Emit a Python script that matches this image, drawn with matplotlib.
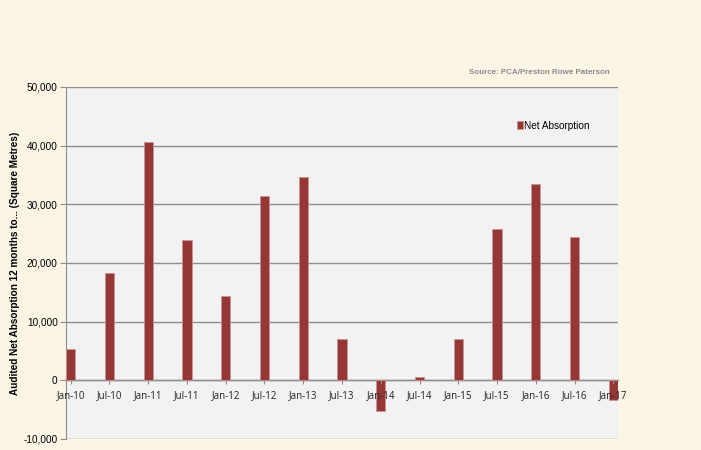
import matplotlib.pyplot as plt
import numpy as np

# %% data
periods = ["Jan-10", "Jul-10", "Jan-11", "Jul-11", "Jan-12", "Jul-12", "Jan-13",
           "Jul-13", "Jan-14", "Jul-14", "Jan-15", "Jul-15", "Jan-16", "Jul-16",
           "Jan-17"]
net_absorption = [5400, 18300, 40600, 23900, 14300, 31500, 34600,
                  7100, -5200, 600, 7100, 25800, 33500, 24400, -3400]
y_ticks = [-10000, 0, 10000, 20000, 30000, 40000, 50000]

# %% plotting
bg = "#fbf5e6"
bar_color = "#953735"
grid_color = "#8e8e8e"
narrow = ["Liberation Sans Narrow", "Liberation Sans", "DejaVu Sans"]

fig = plt.figure(figsize=(7.01, 4.5), dpi=100, facecolor=bg)
ax = fig.add_axes([66 / 701, 1 - 439 / 450, 552 / 701, 352 / 450])
ax.set_facecolor("#f2f2f2")

x = np.arange(len(periods))
width = 0.24
bars = ax.bar(x, net_absorption, width=width, color=bar_color,
              edgecolor="#c99393", linewidth=0.6, zorder=3,
              label="Net Absorption")

ax.set_xlim(-width / 2, len(periods) - 1 + width / 2)
ax.set_ylim(-10000, 50000)
ax.yaxis.grid(True, color=grid_color, linewidth=1.0)
ax.set_axisbelow(True)
# category labels sit on top of the bars that cross zero
ax.xaxis.set_zorder(4)

for side in ("top", "right"):
    ax.spines[side].set_visible(False)
ax.spines["left"].set_color(grid_color)
ax.spines["bottom"].set_position(("data", 0))
ax.spines["bottom"].set_color(grid_color)
ax.spines["bottom"].set_linewidth(1.0)
ax.spines["bottom"].set_zorder(2)
ax.tick_params(axis="x", length=3, color=grid_color, pad=4, labelsize=7,
               labelcolor="#222222", labelfontfamily="Open Sans")
ax.tick_params(axis="y", length=4, color=grid_color, pad=2, labelsize=7.2,
               labelfontfamily="Liberation Sans")

ax.set_xticks(x, periods)
ax.set_yticks(y_ticks, [f"{v:,}" for v in y_ticks])

ax.set_ylabel("Audited Net Absorption 12 months to... (Square Metres)",
              family=narrow, fontsize=7.2, fontweight="bold")
ax.yaxis.set_label_coords(-0.083, 0.5)

ax.legend(handles=[bars], loc="upper left", bbox_to_anchor=(0.8, 0.93),
          frameon=False, handlelength=0.6, handleheight=0.9,
          handletextpad=0.15, prop={"family": narrow, "size": 7.2})

fig.text(610 / 701, 1 - 72 / 450, "Source: PCA/Preston Rowe Paterson",
         ha="right", va="center", fontsize=5.8, color="#8c8c8c",
         fontweight="bold", family=narrow)

fig.savefig("out.png", dpi=100, facecolor=bg)
